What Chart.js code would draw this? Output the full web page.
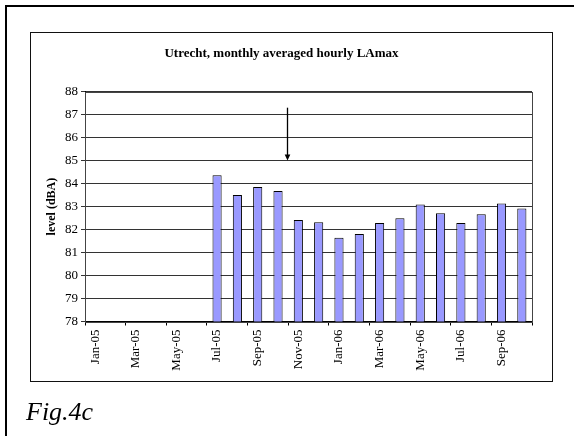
<!DOCTYPE html>
<html>
<head>
<meta charset="utf-8">
<script src="https://cdn.jsdelivr.net/npm/chart.js@4/dist/chart.umd.min.js"></script>
<style>
  html, body { margin: 0; padding: 0; background: #fff; }
  #page { position: relative; width: 574px; height: 436px; overflow: hidden; }
  #frame { position: absolute; left: 5px; top: 5px; width: 700px; height: 600px;
           border-left: 2px solid #000; border-top: 2px solid #000; }
  #box { position: absolute; box-sizing: border-box; left: 30px; top: 32px; width: 523px; height: 350px;
         border: 1.5px solid #111; }
  #c { position: absolute; left: 0; top: 0; }
  #fig { position: absolute; left: 26px; top: 399px; font: italic 26px "Liberation Serif", serif; line-height: 1; }
</style>
</head>
<body>
<div id="page">
  <div id="frame"></div>
  <div id="box"></div>
  <canvas id="c" width="574" height="436"></canvas>
  <div id="fig">Fig.4c</div>
</div>
<script>
// Monthly categories, Jan 2005 – Oct 2006
const months = ['Jan-05','Feb-05','Mar-05','Apr-05','May-05','Jun-05','Jul-05','Aug-05','Sep-05','Oct-05','Nov-05','Dec-05',
                'Jan-06','Feb-06','Mar-06','Apr-06','May-06','Jun-06','Jul-06','Aug-06','Sep-06','Oct-06'];
// Monthly averaged hourly LAmax in dBA (no measurements before July 2005)
const levels = [null, null, null, null, null, null,
                84.36, 83.50, 83.85, 83.68, 82.41, 82.32,
                81.64, 81.81, 82.28, 82.49, 83.09, 82.71, 82.28, 82.67, 83.13, 82.92];
// Level axis range
const levelMin = 78;
const levelMax = 88;
// Marker arrow: between Oct-05 and Nov-05, pointing down from 87.3 to 85 dBA
const arrowAfterMonth = 'Oct-05';
const arrowFrom = 87.3;
const arrowTo = 85.0;

const serif = '"Liberation Serif", "Times New Roman", serif';

const plotDecor = {
  id: 'plotDecor',
  afterDatasetsDraw(chart) {
    const { ctx, chartArea: a, scales: { x, y } } = chart;
    ctx.save();
    // plot area outline
    ctx.strokeStyle = '#444';
    ctx.lineWidth = 1;
    ctx.strokeRect(Math.round(a.left) + 0.5, Math.round(a.top) + 0.5,
                   Math.round(a.right - a.left), Math.round(a.bottom - a.top));
    // arrow
    const i = months.indexOf(arrowAfterMonth);
    const ax = Math.round((x.getPixelForValue(i) + x.getPixelForValue(i + 1)) / 2) - 0.5;
    const y1 = y.getPixelForValue(arrowFrom);
    const y2 = y.getPixelForValue(arrowTo);
    ctx.strokeStyle = '#000';
    ctx.fillStyle = '#000';
    ctx.lineWidth = 1.3;
    ctx.beginPath();
    ctx.moveTo(ax, y1);
    ctx.lineTo(ax, y2 - 4);
    ctx.stroke();
    ctx.beginPath();
    ctx.moveTo(ax - 2.8, y2 - 6);
    ctx.lineTo(ax + 2.8, y2 - 6);
    ctx.lineTo(ax, y2);
    ctx.closePath();
    ctx.fill();
    ctx.restore();
  }
};

new Chart(document.getElementById('c'), {
  type: 'bar',
  data: {
    labels: months,
    datasets: [{
      data: levels,
      backgroundColor: '#9999FF',
      borderColor: '#000',
      borderWidth: 1,
      barPercentage: 0.45,
      categoryPercentage: 1
    }]
  },
  options: {
    responsive: false,
    animation: false,
    devicePixelRatio: 1,
    layout: { padding: { left: 31, right: 42, top: 33, bottom: 55 } },
    plugins: {
      legend: { display: false },
      tooltip: { enabled: false },
      title: {
        display: true,
        text: 'Utrecht, monthly averaged hourly LAmax',
        color: '#000',
        font: { family: serif, size: 13, weight: 'bold', lineHeight: 1.2 },
        padding: { top: 13, bottom: 30 }
      }
    },
    scales: {
      x: {
        afterFit(s) { s.height = 59.5; },
        grid: {
          offset: true,
          drawOnChartArea: false,
          drawTicks: true,
          tickLength: 4,
          color: (c) => (c.index === undefined || c.index % 2 === 0) ? '#000' : 'rgba(0,0,0,0)'
        },
        border: { color: '#000', width: 1 },
        ticks: {
          autoSkip: false,
          minRotation: 90,
          maxRotation: 90,
          padding: 4,
          color: '#000',
          font: { family: serif, size: 13 },
          callback: (v, i) => (i % 2 === 0 ? months[i] : '')
        }
      },
      y: {
        min: levelMin,
        max: levelMax,
        afterFit(s) { s.width = 54; },
        grid: { color: '#333', lineWidth: 1, tickLength: 4, drawTicks: true },
        border: { color: '#000', width: 1 },
        ticks: {
          stepSize: 1,
          padding: 3,
          color: '#000',
          font: { family: serif, size: 13 }
        },
        title: {
          display: true,
          text: 'level (dBA)',
          color: '#000',
          font: { family: serif, size: 12, weight: 'bold' },
          padding: { top: 14, bottom: 0 }
        }
      }
    }
  },
  plugins: [plotDecor]
});
</script>
</body>
</html>
